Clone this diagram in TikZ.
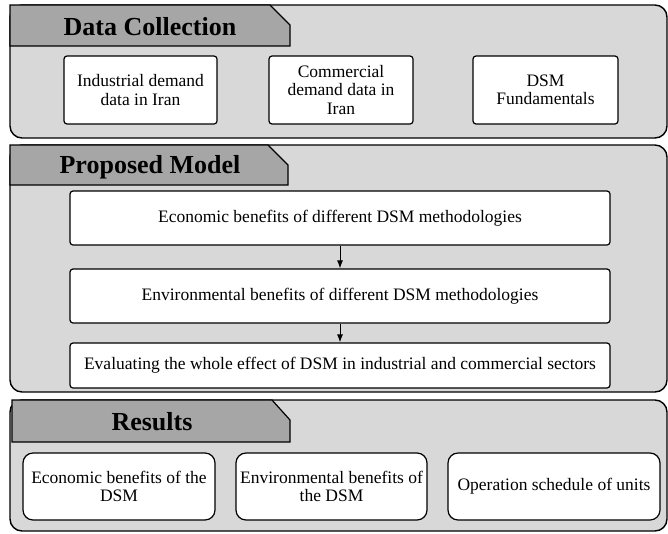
\documentclass[tikz,border=0pt]{standalone}
\usepackage{fontspec}
\setmainfont{Liberation Serif}
\usetikzlibrary{arrows.meta}
\definecolor{panelgray}{RGB}{216,216,216}
\definecolor{tabgray}{RGB}{166,166,166}
\begin{document}
\begin{tikzpicture}[x=1pt,y=-1pt,
  panel/.style={draw=black,line width=1.4pt,fill=panelgray,rounded corners=12pt},
  tab/.style={draw=black,line width=1.2pt,fill=tabgray},
  headtext/.style={font=\fontsize{26}{28}\selectfont\bfseries,anchor=base,inner sep=0pt},
  boxa/.style={draw=black,line width=1.2pt,fill=white,rounded corners=3pt,align=center,
    font=\fontsize{17.5}{18.5}\selectfont,inner sep=0pt},
  boxb/.style={boxa,rounded corners=10pt},
  arr/.style={line width=1pt,-{Latex[length=8pt,width=6pt]}}]
\useasboundingbox (0,0) rectangle (668,533);
% Panel 1
\draw[panel] (10,5) rectangle (667,138);
\draw[tab] (10,5) -- (270,5) -- (290,25) -- (290,46) -- (10,46) -- cycle;
\node[headtext] (h1) at (150,35) {Data Collection};
\node[boxa,minimum width=153pt,minimum height=68pt] (d1) at (140.5,90) {Industrial demand\\data in Iran};
\node[boxa,minimum width=144pt,minimum height=68pt] (d2) at (341,90) {Commercial\\demand data in\\Iran};
\node[boxa,minimum width=145pt,minimum height=68pt] (d3) at (545.5,90) {DSM\\Fundamentals};
% Panel 2
\draw[panel] (10,145) rectangle (667,392);
\draw[tab] (10,145) -- (268,145) -- (288,165) -- (288,185) -- (10,185) -- cycle;
\node[headtext] (h2) at (150,173) {Proposed Model};
\node[boxa,minimum width=540pt,minimum height=54pt] (m1) at (340,218) {Economic benefits of different DSM methodologies};
\node[boxa,minimum width=540pt,minimum height=54pt] (m2) at (340,296) {Environmental benefits of different DSM methodologies};
\node[boxa,minimum width=540pt,minimum height=45pt] (m3) at (340,365.5) {Evaluating the whole effect of DSM in industrial and commercial sectors};
\draw[arr] (m1) -- (m2);
\draw[arr] (m2) -- (m3);
% Panel 3
\draw[panel] (10,400) rectangle (667,531);
\draw[tab] (12,400) -- (272,400) -- (290,420) -- (290,442) -- (12,442) -- cycle;
\node[headtext] (h3) at (152,430) {Results};
\node[boxb,minimum width=192pt,minimum height=67pt] (r1) at (119,486.5) {Economic benefits of the\\DSM};
\node[boxb,minimum width=191pt,minimum height=67pt] (r2) at (331.5,486.5) {Environmental benefits of\\the DSM};
\node[boxb,minimum width=212pt,minimum height=67pt] (r3) at (554,486.5) {Operation schedule of units};
\end{tikzpicture}
\end{document}
